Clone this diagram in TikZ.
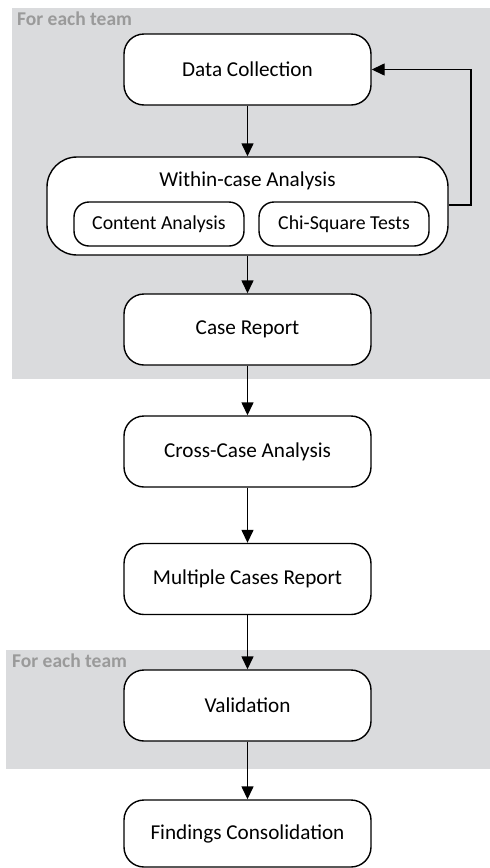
\documentclass[tikz,border=0pt]{standalone}
\usepackage{fontspec}
\setmainfont{Carlito}
\usetikzlibrary{arrows.meta}
\definecolor{teambg}{HTML}{DADBDD}
\definecolor{teamlbl}{HTML}{9A9A9A}
\tikzset{
  stage/.style={draw,line width=1.4pt,rounded corners=20pt,fill=white,minimum width=247pt,minimum height=71pt,font=\fontsize{21.2}{25}\selectfont},
  substage/.style={draw,line width=1.4pt,rounded corners=15pt,fill=white,minimum width=170pt,minimum height=44pt,font=\fontsize{19.8}{23}\selectfont},
  teamlabel/.style={anchor=north west,inner sep=0pt,text=teamlbl,font=\fontsize{19.5}{23}\selectfont\bfseries},
  flow/.style={line width=1.4pt,-{Triangle[length=13pt,width=12pt]}}
}
\begin{document}
\begin{tikzpicture}[x=1pt,y=-1pt]
    \useasboundingbox (0,0) rectangle (490,868);
    % team regions
    \fill[teambg] (12,8) rectangle (490,379);
    \fill[teambg] (6,650) rectangle (490,769);
    \node[teamlabel] (t1) at (17,12) {For each team};
    \node[teamlabel] (t2) at (12,654) {For each team};
    % stages
    \node[stage] (dc) at (247.5,69.5) {Data Collection};
    \node[stage,rounded corners=30pt,minimum width=401pt,minimum height=98pt] (wca) at (247.5,206) {};
    \node[inner sep=0pt,font=\fontsize{21.2}{25}\selectfont] (wcat) at (247.5,181) {Within-case Analysis};
    \node[substage] (ca) at (159,224) {Content Analysis};
    \node[substage] (cst) at (344,224) {Chi-Square Tests};
    \node[stage] (cr) at (247.5,329.5) {Case Report};
    \node[stage] (cca) at (247.5,451.5) {Cross-Case Analysis};
    \node[stage] (mcr) at (247.5,579) {Multiple Cases Report};
    \node[stage] (val) at (247.5,705.5) {Validation};
    \node[stage,minimum height=67pt] (fc) at (247.5,833.5) {Findings Consolidation};
    % connectors
    \draw[flow] (dc) -- (wca);
    \draw[flow] (wca) -- (cr);
    \draw[flow] (cr) -- (cca);
    \draw[flow] (cca) -- (mcr);
    \draw[flow] (mcr) -- (val);
    \draw[flow] (val) -- (fc);
    \draw[flow] (wca.east |- 0,205) -| (471,69.5) -- (dc.east);
\end{tikzpicture}
\end{document}
